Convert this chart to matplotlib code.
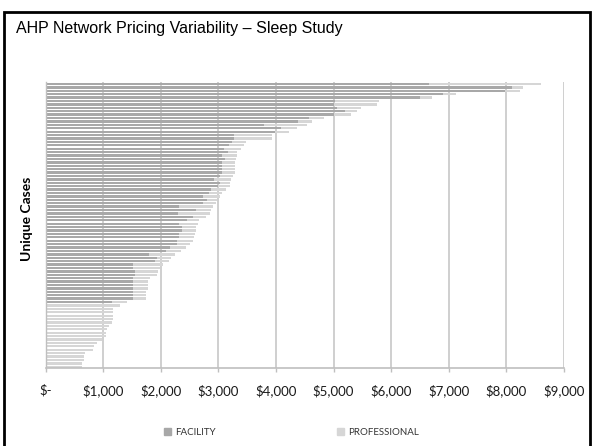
import numpy as np
import matplotlib.pyplot as plt
import matplotlib.patches as mpatches

# rows listed top to bottom (sorted by total cost)
facility = [6650, 8100, 7980, 6900, 6500, 5030, 5010, 5060, 5200, 5000,
            4580, 4380, 3790, 4080, 3990, 3280, 3280, 3240, 3180, 3100,
            3160, 3070, 3120, 3060, 3060, 3060, 3060, 3030, 2920, 3030,
            3000, 2880, 2830, 2740, 2800, 2740, 2320, 2620, 2300, 2560,
            2450, 2320, 2370, 2370, 2320, 2320, 2290, 2280, 2160, 2100,
            1790, 1940, 1900, 1520, 1510, 1550, 1550, 1510, 1510, 1510,
            1510, 1510, 1510, 1510, 1160, 0, 0, 0, 0, 0,
            0, 0, 0, 0, 0, 0, 0, 0, 0, 0,
            0, 0, 0, 0]
total = [8600, 8280, 8230, 7130, 6700, 5790, 5760, 5480, 5410, 5300,
         4840, 4620, 4540, 4360, 4220, 3930, 3930, 3480, 3450, 3400,
         3330, 3320, 3300, 3290, 3290, 3290, 3290, 3250, 3220, 3200,
         3200, 3130, 3060, 3030, 2970, 2960, 2900, 2880, 2860, 2780,
         2670, 2650, 2610, 2610, 2590, 2570, 2560, 2510, 2430, 2350,
         2250, 2170, 2150, 2040, 1990, 1950, 1930, 1810, 1780, 1780,
         1780, 1750, 1750, 1750, 1420, 1300, 1170, 1170, 1170, 1170,
         1150, 1100, 1060, 1050, 1050, 975, 890, 835, 825, 680,
         660, 660, 640, 635]
professional = [t - f for t, f in zip(total, facility)]

xticks = [0, 1000, 2000, 3000, 4000, 5000, 6000, 7000, 8000, 9000]
xticklabels = ['$-', '$1,000', '$2,000', '$3,000', '$4,000', '$5,000',
               '$6,000', '$7,000', '$8,000', '$9,000']

fac_color = '#A8A8A8'
pro_color = '#D6D6D6'

fig = plt.figure(figsize=(5.94, 4.46), dpi=100)
ax = fig.add_axes([0.0766, 0.1738, 0.873, 0.6417])

n = len(total)
y = np.arange(n)[::-1]
ax.barh(y, facility, height=0.68, color=fac_color, label='FACILITY', zorder=2)
ax.barh(y, professional, left=facility, height=0.68, color=pro_color,
        label='PROFESSIONAL', zorder=2)

ax.set_xlim(0, 9000)
ax.set_ylim(-0.5, n - 0.5)
ax.set_xticks(xticks)
ax.set_xticklabels(xticklabels, fontfamily='Lato', fontsize=9.5, color='#1a1a1a')
ax.set_yticks([])
ax.grid(axis='x', color='#CCCCCC', linewidth=1.3, zorder=0)
ax.set_axisbelow(True)
ax.tick_params(axis='x', length=3, width=1, color='#BFBFBF', pad=8.5)

for s in ['top', 'right']:
    ax.spines[s].set_visible(False)
ax.spines['bottom'].set_color('#BFBFBF')
ax.spines['bottom'].set_linewidth(1.2)
ax.spines['left'].set_color('#BFBFBF')
ax.spines['left'].set_linewidth(1.0)

fig.text(0.045, 0.51, 'Unique Cases', rotation=90, ha='center', va='center',
         fontfamily='Lato', fontweight='bold', fontsize=10)

fig.text(0.027, 0.937, 'AHP Network Pricing Variability \u2013 Sleep Study',
         ha='left', va='center', fontfamily='Liberation Sans', fontsize=11.5)

fac_patch = mpatches.Patch(color=fac_color, label='FACILITY')
pro_patch = mpatches.Patch(color=pro_color, label='PROFESSIONAL')
leg = fig.legend(handles=[fac_patch, pro_patch], loc='center',
                 bbox_to_anchor=(0.491, 0.031), ncol=2, frameon=False,
                 handlelength=0.7, handleheight=0.7, handletextpad=0.4,
                 columnspacing=12.5, prop={'family': 'Lato', 'size': 7})
for t in leg.get_texts():
    t.set_color('#333333')

# outer black frame (cut off at the bottom)
frame = mpatches.Rectangle((4 / 594, -0.05), 586 / 594, 1.05 - 12 / 446,
                           transform=fig.transFigure, fill=False,
                           edgecolor='black', linewidth=2.0)
fig.patches.append(frame)

fig.savefig('out.png', dpi=100)
